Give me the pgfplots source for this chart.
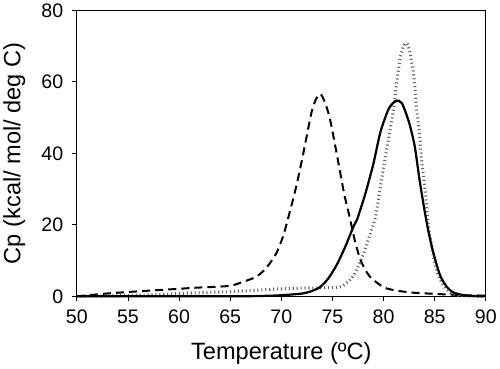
\documentclass[border=0pt]{standalone}
\usepackage{fontspec}
\setmainfont{Liberation Sans}
\usepackage{pgfplots}
\pgfplotsset{compat=1.18}
\begin{document}
\begin{tikzpicture}
\begin{axis}[
  scale only axis,
  width=406bp, height=284bp,
  xmin=50, xmax=90, ymin=0, ymax=80,
  xtick={50,55,...,90}, ytick={0,20,...,80},
  tick align=outside, tick pos=left,
  major tick length=5bp,
  axis line style={line width=1.1pt},
  tick style={line width=0.9pt, black},
  /pgf/number format/assume math mode=true,
  ticklabel style={font=\fontsize{19.5}{21}\selectfont},
  xticklabel style={yshift=-5bp},
  yticklabel style={xshift=-5bp},
  xlabel={Temperature (ºC)},
  ylabel={Cp (kcal/ mol/ deg C)},
  label style={font=\fontsize{23.5}{26}\selectfont},
  xlabel style={at={(axis description cs:0.5,0)}, anchor=base, yshift=-63bp},
  ylabel style={at={(axis description cs:0,0.5)}, anchor=base, yshift=56bp},
  clip=false,
]
% dashed curve
\addplot[black, line width=2pt, dash pattern=on 8bp off 5bp, smooth, tension=0.4] coordinates {
(50,0) (52.8,0.75) (55,1.2) (57.7,1.7) (60,2.1) (61.6,2.4) (64.9,2.9) (66.2,4.0) (67.5,5.4) (68.5,7.8) (69.5,12) (70.2,17) (70.8,23.3) (71.4,30) (71.97,37.4) (72.5,45) (72.96,51.5) (73.4,55.2) (73.84,56.6) (74.3,54) (74.76,49.6) (75.4,40.2) (75.8,34) (76.2,28) (76.7,22) (77.2,15.5) (77.7,10.5) (78.2,7.5) (78.7,5.4) (79.5,3.5) (80.3,2.2) (81.5,1.5) (83,1.0) (86.3,0.5) (88,0.3) (90,0.2)
};
% dotted curve
\addplot[black!60, line width=3pt, dash pattern=on 1.1bp off 2.8bp, smooth, tension=0.4] coordinates {
(50,0) (55,0.2) (58,0.5) (60,0.8) (62,1.0) (65,1.3) (68,1.8) (70,2.1) (72,2.3) (74,2.4) (75.7,2.6) (76.5,4) (77.1,5.9) (78.0,11.5) (78.5,15.8) (79.2,22) (79.6,29) (80.0,36) (80.3,41) (80.7,47.5) (81.0,53) (81.3,60) (81.65,67) (82.0,70.3) (82.3,70.7) (82.6,68) (83.0,60.8) (83.2,53.3) (83.5,45.8) (83.75,37.4) (84.1,28.9) (84.4,19.5) (84.9,11) (85.3,6.4) (85.9,2.8) (86.6,0.9) (87.5,0.2) (90,0)
};
% solid curve
\addplot[black, line width=2.2pt, smooth, tension=0.4] coordinates {
(50,0) (65,0) (68,0.1) (70,0.3) (72.1,0.8) (73,1.5) (73.8,2.6) (74.6,5) (75.4,8.7) (76.2,13.5) (77.06,19.5) (77.4,21.4) (78.2,28.5) (79,37) (79.7,46) (80.5,52.4) (81.2,54.7) (81.8,54) (82.5,48.6) (83.05,42) (83.5,33) (84,24.2) (84.4,18) (84.8,13) (85.2,8.8) (85.6,5.4) (86.2,2.6) (86.75,1.2) (87.5,0.5) (88.5,0.1) (90,0)
};
\end{axis}
\end{tikzpicture}
\end{document}
